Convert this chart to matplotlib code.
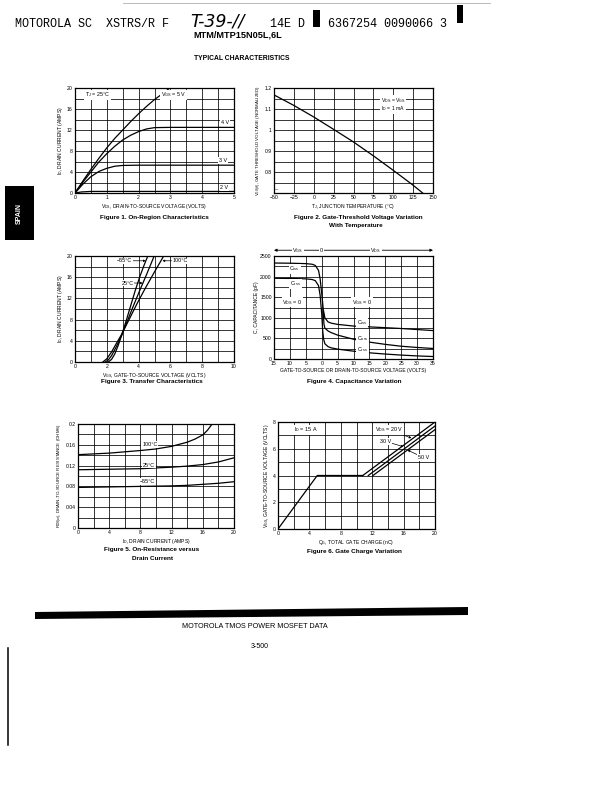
import matplotlib
matplotlib.use("Agg")
import matplotlib.pyplot as plt
from matplotlib.patches import Rectangle, Polygon
import numpy as np

plt.rcParams['font.family'] = ['Liberation Sans Narrow', 'Liberation Sans', 'DejaVu Sans']
plt.rcParams['mathtext.default'] = 'regular'

# ---- Figure 1: on-region characteristics (VDS vs ID)
vds_5v = [0, 0.25, 0.5, 0.75, 1.0, 1.25, 1.5, 1.75, 2.0, 2.25, 2.5, 2.75, 2.98]
id_5v = [0, 2.3, 4.5, 6.6, 8.6, 10.4, 12.0, 13.6, 15.1, 16.5, 17.8, 18.9, 20]
vds_4v = [0, 0.25, 0.5, 0.75, 1.0, 1.25, 1.5, 1.75, 2.0, 2.25, 2.5, 3.0, 4.0, 5.0]
id_4v = [0, 2.1, 4.0, 5.9, 7.5, 8.9, 10.1, 11.0, 11.7, 12.2, 12.45, 12.5, 12.5, 12.5]
vds_3v = [0, 0.25, 0.5, 0.75, 1.0, 1.25, 1.5, 2.0, 5.0]
id_3v = [0, 1.7, 3.1, 4.1, 4.7, 5.1, 5.25, 5.3, 5.3]
vds_2v = [0, 0.2, 0.5, 1.0, 5.0]
id_2v = [0, 0.2, 0.3, 0.3, 0.3]

# ---- Figure 2: gate threshold vs temperature
tj = [-50, -25, 0, 25, 50, 75, 100, 125, 137]
vth_norm = [1.167, 1.117, 1.062, 1.003, 0.943, 0.877, 0.808, 0.737, 0.70]

# ---- Figure 3: transfer characteristics
vgs_m55 = [2.1, 2.3, 2.5, 2.7, 2.93, 3.2, 3.5, 3.8, 4.1, 4.35, 4.58]
id_m55 = [0, 0.5, 1.5, 3.0, 5.0, 7.6, 10.6, 13.6, 16.3, 18.3, 20]
vgs_25 = [1.9, 2.1, 2.3, 2.6, 2.93, 3.3, 3.7, 4.1, 4.5, 4.98]
id_25 = [0, 0.4, 1.2, 2.9, 5.0, 7.8, 10.8, 13.7, 16.5, 20]
vgs_100 = [1.75, 2.0, 2.3, 2.6, 2.93, 3.4, 3.9, 4.4, 5.0, 5.58]
id_100 = [0, 0.6, 1.9, 3.5, 5.2, 8.0, 11.0, 13.8, 17.0, 20]

# ---- Figure 4: capacitance (negative x = VGS side, positive = VDS side)
v_ciss = [-15, -10, -5, -3, -2, -1, -0.5, 0, 0.5, 1, 2, 3, 5, 10, 15, 20, 25, 30, 35]
ciss = [2330, 2325, 2315, 2300, 2270, 2150, 1950, 1600, 1200, 1000, 900, 870, 840, 800, 780, 760, 740, 715, 690]
v_crss = [-15, -10, -5, -3, -2, -1, -0.5, 0, 0.3, 0.6, 1, 2, 3, 5, 10, 15, 20, 25, 30, 35]
crss = [1960, 1955, 1945, 1930, 1900, 1780, 1550, 1100, 700, 480, 370, 300, 270, 240, 190, 150, 120, 95, 75, 60]
v_coss = [0.5, 0.7, 1, 2, 3, 5, 10, 15, 20, 25, 30, 35]
coss = [1150, 850, 750, 680, 640, 580, 480, 410, 355, 310, 280, 255]
cap_ticks = [-15, -10, -5, 0, 5, 10, 15, 20, 25, 30, 35]
cap_ticklabels = ['15', '10', '5', '0', '5', '10', '15', '20', '25', '30', '35']

# ---- Figure 5: on-resistance vs drain current
id_r100 = [0, 4, 8, 10, 12, 14, 15, 16, 16.6, 17.2]
r_100 = [0.141, 0.144, 0.149, 0.152, 0.157, 0.165, 0.171, 0.179, 0.188, 0.2]
id_r25 = [0, 4, 8, 12, 14, 16, 18, 20]
r_25 = [0.112, 0.113, 0.114, 0.117, 0.119, 0.122, 0.127, 0.135]
id_rm55 = [0, 4, 8, 12, 14, 16, 18, 20]
r_m55 = [0.078, 0.079, 0.080, 0.081, 0.082, 0.084, 0.086, 0.089]

# ---- Figure 6: gate charge
qg_common = [0, 5, 10.8]
vg_common = [0, 4, 4]
qg_20v = [10.8, 20]
vg_20v = [4, 8]
qg_30v = [11.5, 20]
vg_30v = [4, 7.7]
qg_50v = [12.1, 20]
vg_50v = [4, 7.43]

W, H = 614, 792
fig = plt.figure(figsize=(W / 100, H / 100), dpi=100)


def fx(px):
    return px / W


def fy(py):
    return 1 - py / H


def axes_at(x0, y0, x1, y1):
    return fig.add_axes([x0 / W, 1 - y1 / H, (x1 - x0) / W, (y1 - y0) / H])


def setup(ax, xlim, ylim, xgrid, ygrid, xticks, yticks, xlabels=None, ylabels=None):
    ax.set_xlim(*xlim)
    ax.set_ylim(*ylim)
    ax.set_xticks(xgrid, minor=True)
    ax.set_yticks(ygrid, minor=True)
    ax.set_xticks(xticks)
    ax.set_yticks(yticks)
    if xlabels is not None:
        ax.set_xticklabels(xlabels)
    if ylabels is not None:
        ax.set_yticklabels(ylabels)
    ax.grid(which='both', color='black', lw=0.55)
    ax.tick_params(which='both', length=0, labelsize=3.7, pad=1.6)
    for s in ax.spines.values():
        s.set_linewidth(0.9)


def lab(ax, x, y, s, **kw):
    ax.text(x, y, s, fontsize=3.9, ha='center', va='center',
            bbox=dict(facecolor='white', edgecolor='none', pad=0.6), **kw)


LW = 0.9
AX = dict(fontsize=3.6, labelpad=1.2)

# Figure 1
ax1 = axes_at(75, 88, 234, 193)
setup(ax1, (0, 5), (0, 20), np.arange(0, 5.01, 0.5), np.arange(0, 20.1, 2),
      [0, 1, 2, 3, 4, 5], [0, 4, 8, 12, 16, 20])
for xs, ys in [(vds_5v, id_5v), (vds_4v, id_4v), (vds_3v, id_3v), (vds_2v, id_2v)]:
    ax1.plot(xs, ys, color='black', lw=LW)
lab(ax1, 0.72, 18.7, r'T$_J$ = 25°C')
lab(ax1, 3.1, 18.7, r'V$_{GS}$ = 5 V')
lab(ax1, 4.72, 13.4, '4 V')
lab(ax1, 4.65, 6.2, '3 V')
lab(ax1, 4.7, 1.1, '2 V')
ax1.set_xlabel(r'V$_{DS}$, DRAIN-TO-SOURCE VOLTAGE (VOLTS)', **AX)
ax1.set_ylabel(r'I$_D$, DRAIN CURRENT (AMPS)', **AX)

# Figure 2
ax2 = axes_at(274, 88, 433, 193)
setup(ax2, (-50, 150), (0.7, 1.2), np.arange(-50, 151, 25), np.arange(0.7, 1.201, 0.05),
      [-50, -25, 0, 25, 50, 75, 100, 125, 150], [0.8, 0.9, 1.0, 1.1, 1.2],
      ['\u221250', '\u221225', '0', '25', '50', '75', '100', '125', '150'],
      ['0.8', '0.9', '1', '1.1', '1.2'])
ax2.plot(tj, vth_norm, color='black', lw=LW)
ax2.text(-47, 0.715, '~', fontsize=4, ha='center', va='center')
ax2.text(100, 1.121, 'V$_{DS}$ = V$_{GS}$\nI$_D$ = 1 mA', fontsize=3.7, ha='center', va='center',
         linespacing=1.0, bbox=dict(facecolor='white', edgecolor='none', pad=0.3))
ax2.set_xlabel(r'T$_J$, JUNCTION TEMPERATURE (°C)', **AX)
ax2.set_ylabel(r'V$_{GS(th)}$, GATE THRESHOLD VOLTAGE (NORMALIZED)', fontsize=3.2, labelpad=1.2)

# Figure 3
ax3 = axes_at(75, 256, 234, 362)
setup(ax3, (0, 10), (0, 20), np.arange(0, 10.1, 1), np.arange(0, 20.1, 2),
      [0, 2, 4, 6, 8, 10], [0, 4, 8, 12, 16, 20])
for xs, ys in [(vgs_m55, id_m55), (vgs_25, id_25), (vgs_100, id_100)]:
    ax3.plot(xs, ys, color='black', lw=LW)
arrow = dict(arrowstyle='-|>', lw=0.5, color='black', mutation_scale=3, shrinkA=0, shrinkB=0)
for txt, xt, yt, xa, ya in [('\u221255°C', 3.1, 19.1, 4.45, 19.1),
                            ('100°C', 6.6, 19.1, 5.5, 19.1),
                            ('25°C', 3.3, 14.9, 4.25, 14.9)]:
    ax3.annotate(txt, xy=(xa, ya), xytext=(xt, yt), fontsize=3.9, ha='center', va='center',
                 arrowprops=arrow, bbox=dict(facecolor='white', edgecolor='none', pad=0.5))
ax3.set_xlabel(r'V$_{GS}$, GATE-TO-SOURCE VOLTAGE (VOLTS)', **AX)
ax3.set_ylabel(r'I$_D$, DRAIN CURRENT (AMPS)', **AX)

# Figure 4
ax4 = axes_at(274, 256, 433, 359)
setup(ax4, (-15, 35), (0, 2500), np.arange(-15, 35.1, 5), np.arange(0, 2501, 250),
      cap_ticks, [0, 500, 1000, 1500, 2000, 2500], cap_ticklabels)
for xs, ys in [(v_ciss, ciss), (v_crss, crss), (v_coss, coss)]:
    ax4.plot(xs, ys, color='black', lw=LW)
lab(ax4, -8.5, 2190, r'C$_{iss}$')
lab(ax4, -8.2, 1820, r'C$_{rss}$')
lab(ax4, -9.2, 1380, r'V$_{DS}$ = 0')
lab(ax4, 12.6, 1380, r'V$_{GS}$ = 0')
lab(ax4, 12.6, 880, r'C$_{iss}$')
lab(ax4, 12.8, 490, r'C$_{oss}$')
lab(ax4, 12.8, 225, r'C$_{rss}$')
arr4 = dict(arrowstyle='-|>', lw=0.6, color='black', mutation_scale=4, shrinkA=0, shrinkB=0)
ax4.annotate('', xy=(-15, 2640), xytext=(0, 2640), arrowprops=arr4, annotation_clip=False)
ax4.annotate('', xy=(35, 2640), xytext=(0, 2640), arrowprops=arr4, annotation_clip=False)
for s, xv in [(r'V$_{GS}$', -7.5), ('0', 0), (r'V$_{DS}$', 17)]:
    ax4.text(xv, 2640, s, fontsize=3.9, ha='center', va='center', clip_on=False,
             bbox=dict(facecolor='white', edgecolor='none', pad=0.5))
ax4.set_xlabel('GATE-TO-SOURCE OR DRAIN-TO-SOURCE VOLTAGE (VOLTS)', **AX)
ax4.set_ylabel('C, CAPACITANCE (pF)', **AX)

# Figure 5
ax5 = axes_at(78, 424, 234, 528)
setup(ax5, (0, 20), (0, 0.2), np.arange(0, 20.1, 2), np.arange(0, 0.201, 0.02),
      [0, 4, 8, 12, 16, 20], [0, 0.04, 0.08, 0.12, 0.16, 0.2], None,
      ['0', '0.04', '0.08', '0.12', '0.16', '0.2'])
for xs, ys in [(id_r100, r_100), (id_r25, r_25), (id_rm55, r_m55)]:
    ax5.plot(xs, ys, color='black', lw=LW)
lab(ax5, 9.2, 0.161, '100°C')
lab(ax5, 9.1, 0.121, '25°C')
lab(ax5, 8.9, 0.089, '\u221255°C')
ax5.set_xlabel(r'I$_D$, DRAIN CURRENT (AMPS)', **AX)
ax5.set_ylabel(r'R$_{DS(on)}$, DRAIN-TO-SOURCE RESISTANCE (OHMS)', fontsize=3.2, labelpad=1.2)

# Figure 6
ax6 = axes_at(278, 422, 435, 529)
setup(ax6, (0, 20), (0, 8), np.arange(0, 20.1, 2), np.arange(0, 8.1, 1),
      [0, 4, 8, 12, 16, 20], [0, 2, 4, 6, 8])
for xs, ys in [(qg_common, vg_common), (qg_20v, vg_20v), (qg_30v, vg_30v), (qg_50v, vg_50v)]:
    ax6.plot(xs, ys, color='black', lw=LW)
lab(ax6, 3.6, 7.4, r'I$_D$ = 15 A')
for txt, xt, yt, xa, ya in [(r'V$_{DS}$ = 20 V', 14.2, 7.4, 17.0, 6.8),
                            ('30 V', 13.7, 6.55, 16.0, 6.15),
                            ('50 V', 18.5, 5.35, 16.5, 5.9)]:
    ax6.annotate(txt, xy=(xa, ya), xytext=(xt, yt), fontsize=3.9, ha='center', va='center',
                 arrowprops=arrow, bbox=dict(facecolor='white', edgecolor='none', pad=0.5))
ax6.set_xlabel(r'Q$_G$, TOTAL GATE CHARGE (nC)', **AX)
ax6.set_ylabel(r'V$_{GS}$, GATE-TO-SOURCE VOLTAGE (VOLTS)', **AX)

# captions
cap = dict(fontsize=4.6, fontweight='bold', ha='center', va='center')
fig.text(fx(154), fy(217), 'Figure 1. On-Region Characteristics', **cap)
fig.text(fx(358), fy(217), 'Figure 2. Gate-Threshold Voltage Variation', **cap)
fig.text(fx(356), fy(226), 'With Temperature', **cap)
fig.text(fx(152), fy(381), 'Figure 3. Transfer Characteristics', **cap)
fig.text(fx(354), fy(381), 'Figure 4. Capacitance Variation', **cap)
fig.text(fx(152), fy(550), 'Figure 5. On-Resistance versus', **cap)
fig.text(fx(152), fy(559), 'Drain Current', **cap)
fig.text(fx(354), fy(552), 'Figure 6. Gate Charge Variation', **cap)

# page header
mono = ['Liberation Mono', 'DejaVu Sans Mono']
fig.text(fx(15), fy(24), 'MOTOROLA SC  XSTRS/R F', family=mono, fontsize=8.5, ha='left', va='center')
fig.text(fx(190), fy(21), 'T-39-//', family=['DejaVu Sans'], style='italic', fontsize=12.5,
         ha='left', va='center')
fig.text(fx(270), fy(24), '14E D', family=mono, fontsize=8.5, ha='left', va='center')
fig.text(fx(328), fy(24), '6367254 0090066 3', family=mono, fontsize=8.5, ha='left', va='center')
fig.patches.append(Rectangle((fx(313), fy(27)), 7 / W, 17 / H, transform=fig.transFigure,
                             facecolor='black', edgecolor='none'))
fig.patches.append(Rectangle((fx(457), fy(23)), 6 / W, 18 / H, transform=fig.transFigure,
                             facecolor='black', edgecolor='none'))
fig.lines.append(plt.Line2D([fx(123), fx(490)], [fy(2.5), fy(2.5)], transform=fig.transFigure,
                            color='#b0b0b0', lw=0.6))
fig.text(fx(193), fy(35), 'MTM/MTP15N05L,6L', fontsize=6.6, fontweight='bold', ha='left', va='center')
fig.text(fx(242), fy(58), 'TYPICAL CHARACTERISTICS', fontsize=4.9, fontweight='bold',
         ha='center', va='center')

# left tab
fig.patches.append(Rectangle((fx(5), fy(240)), 29 / W, 54 / H, transform=fig.transFigure,
                             facecolor='black', edgecolor='none'))
fig.text(fx(19), fy(213), 'SPAIN', color='white', fontsize=5, rotation=90, ha='center',
         va='center', fontweight='bold')

# footer
fig.patches.append(Polygon([(fx(35), fy(612)), (fx(468), fy(607)), (fx(468), fy(615)),
                            (fx(35), fy(619))], closed=True, transform=fig.transFigure,
                           facecolor='black', edgecolor='none'))
fig.text(fx(255), fy(627), 'MOTOROLA TMOS POWER MOSFET DATA', fontsize=5.2, ha='center', va='center')
fig.text(fx(260), fy(646), '3-500', fontsize=5.0, ha='center', va='center')
fig.lines.append(plt.Line2D([fx(8), fx(8)], [fy(648), fy(745)], transform=fig.transFigure,
                            color='black', lw=1.1))

fig.savefig('out.png', dpi=100, facecolor='white')
